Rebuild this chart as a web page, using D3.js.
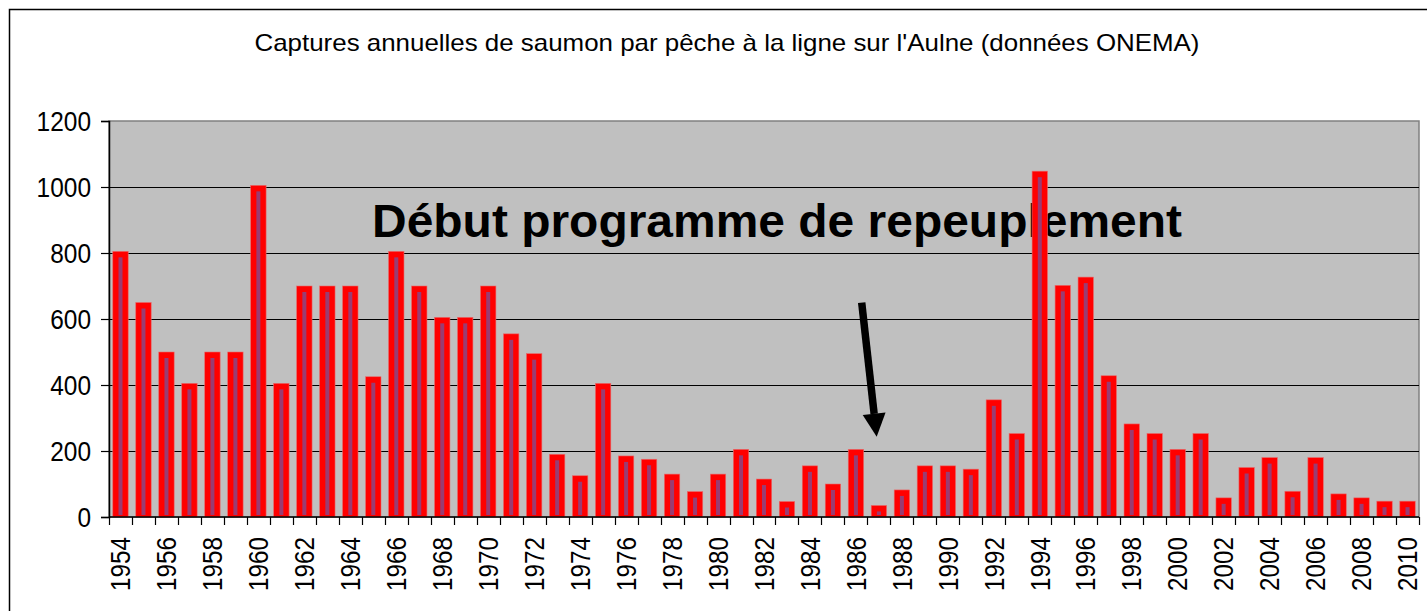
<!DOCTYPE html>
<html>
<head>
<meta charset="utf-8">
<script src="https://cdn.jsdelivr.net/npm/d3@7"></script>
<style>
  body { margin: 0; background: #fff; }
  text { font-family: "Liberation Sans", Arial, sans-serif; }
</style>
</head>
<body>
<div id="chart"></div>
<script>
// Data: annual salmon catches on the Aulne
const years = d3.range(1954, 2011);
const catches = [
  805, 650, 500, 405, 500, 500, 1005, 405, 700, 700,
  700, 425, 805, 700, 605, 605, 700, 555, 495, 190,
  125, 405, 185, 175, 130, 77, 130, 205, 115, 47,
  155, 100, 205, 35, 82, 155, 155, 145, 355, 253,
  1048, 702, 727, 428, 282, 253, 205, 253, 58, 150,
  180, 78, 180, 70, 58, 48, 48
];
const yTicks = [0, 200, 400, 600, 800, 1000, 1200];
const labelYears = years.filter(y => (y - 1954) % 2 === 0);

const title = "Captures annuelles de saumon par pêche à la ligne sur l'Aulne (données ONEMA)";
const note = "Début programme de repeuplement";

const W = 1427, H = 611;
const margin = { top: 121, right: 8, bottom: 94, left: 109 };
const width = 1419 - margin.left;
const height = 517 - margin.top;

const root = d3.select("#chart").append("svg")
    .attr("width", W)
    .attr("height", H);

// outer frame of the chart object
root.append("rect")
    .attr("x", 9.5).attr("y", 9.5)
    .attr("width", W).attr("height", H)
    .attr("fill", "none")
    .attr("stroke", "#000")
    .attr("stroke-width", 1.5);

root.append("text")
    .attr("x", 727)
    .attr("y", 51)
    .attr("text-anchor", "middle")
    .attr("textLength", 945)
    .attr("lengthAdjust", "spacingAndGlyphs")
    .style("font-size", "24px")
    .attr("fill", "#000")
    .text(title);

const svg = root.append("g")
    .attr("transform", `translate(${margin.left},${margin.top})`);

// scales
const x = d3.scaleBand()
    .domain(years)
    .range([0, width])
    .paddingInner(0.33)
    .paddingOuter(0.165);

const y = d3.scaleLinear()
    .domain([0, 1200])
    .range([height, 0]);

// plot background
svg.append("rect")
    .attr("width", width)
    .attr("height", height)
    .attr("fill", "#c0c0c0")
    .attr("stroke", "#808080")
    .attr("stroke-width", 1.5);

// gridlines
svg.append("g")
    .selectAll("line")
    .data(yTicks.filter(d => d > 0 && d < 1200))
    .join("line")
    .attr("x1", 0).attr("x2", width)
    .attr("y1", d => Math.round(y(d)) + 0.5)
    .attr("y2", d => Math.round(y(d)) + 0.5)
    .attr("stroke", "#000")
    .attr("stroke-width", 1.2);

// annotation text (under the bars)
svg.append("text")
    .attr("x", 372 - margin.left)
    .attr("y", 237 - margin.top)
    .attr("textLength", 810)
    .attr("lengthAdjust", "spacingAndGlyphs")
    .style("font-size", "46px")
    .style("font-weight", "bold")
    .attr("fill", "#000")
    .text(note);

// bars: red outer, purple core
const bars = svg.append("g")
    .selectAll("g")
    .data(years.map((yr, i) => ({ yr, v: catches[i] })))
    .join("g");

bars.append("rect")
    .attr("x", d => x(d.yr))
    .attr("y", d => y(d.v))
    .attr("width", x.bandwidth())
    .attr("height", d => height - y(d.v))
    .attr("fill", "#ff0000")
    .attr("stroke", "#e86a6a")
    .attr("stroke-width", 0.6);

bars.append("rect")
    .attr("x", d => x(d.yr) + x.bandwidth() / 2 - 2)
    .attr("y", d => y(d.v) + 6)
    .attr("width", 4)
    .attr("height", d => Math.max(0, height - y(d.v) - 8))
    .attr("fill", "#9a3c72");

// arrow
const ax0 = 861.7 - margin.left, ay0 = 302.7 - margin.top;
const ax1 = 876.7 - margin.left, ay1 = 436.7 - margin.top;
const ang = Math.atan2(ay1 - ay0, ax1 - ax0);
const headLen = 23, headHalf = 11.5;
const bx = ax1 - headLen * Math.cos(ang), by = ay1 - headLen * Math.sin(ang);
svg.append("line")
    .attr("x1", ax0).attr("y1", ay0)
    .attr("x2", bx).attr("y2", by)
    .attr("stroke", "#000")
    .attr("stroke-width", 7.5);
svg.append("path")
    .attr("d", `M${ax1},${ay1}L${bx - headHalf * Math.sin(ang)},${by + headHalf * Math.cos(ang)}L${bx + headHalf * Math.sin(ang)},${by - headHalf * Math.cos(ang)}Z`)
    .attr("fill", "#000");

// y axis
const yAxis = d3.axisLeft(y)
    .tickValues(yTicks)
    .tickFormat(d3.format("d"))
    .tickSize(8)
    .tickPadding(10);
const gy = svg.append("g").call(yAxis);
gy.select(".domain").attr("stroke", "#000").attr("stroke-width", 1.5);
gy.selectAll(".tick line").attr("stroke", "#000").attr("stroke-width", 1.2);
gy.selectAll(".tick text")
    .style("font-size", "27px")
    .attr("textLength", d => String(d).length * 13.6)
    .attr("lengthAdjust", "spacingAndGlyphs")
    .attr("fill", "#000")
    .attr("dy", "0.36em");

// x axis: baseline, ticks at band boundaries, rotated labels
svg.append("line")
    .attr("x1", 0).attr("x2", width)
    .attr("y1", height).attr("y2", height)
    .attr("stroke", "#000")
    .attr("stroke-width", 1.5);

const step = x.step();
svg.append("g")
    .selectAll("line")
    .data(d3.range(years.length + 1))
    .join("line")
    .attr("x1", i => Math.round(i * step) + 0.5)
    .attr("x2", i => Math.round(i * step) + 0.5)
    .attr("y1", height)
    .attr("y2", height + 8)
    .attr("stroke", "#000")
    .attr("stroke-width", 1.2);

svg.append("g")
    .selectAll("text")
    .data(labelYears)
    .join("text")
    .attr("transform", d => `translate(${x(d) + x.bandwidth() / 2},${height + 20}) rotate(-90)`)
    .attr("text-anchor", "end")
    .attr("dy", "0.36em")
    .attr("textLength", 54)
    .attr("lengthAdjust", "spacingAndGlyphs")
    .style("font-size", "27px")
    .attr("fill", "#000")
    .text(d => d);
</script>
</body>
</html>
